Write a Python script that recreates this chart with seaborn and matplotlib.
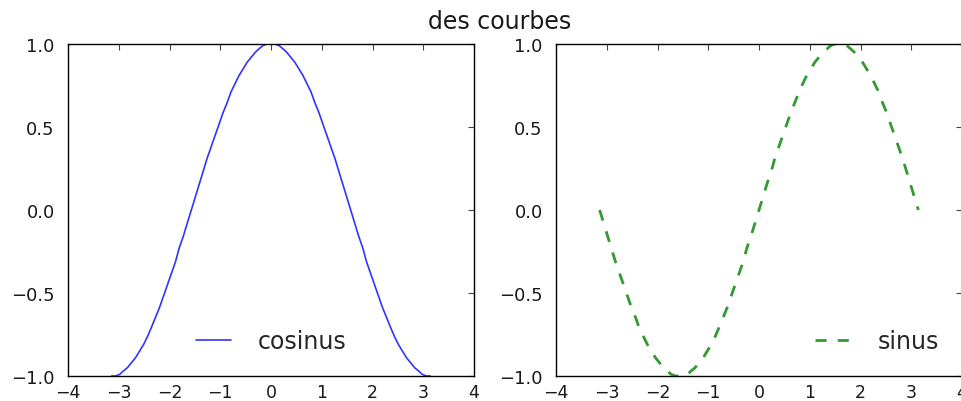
import matplotlib
matplotlib.use("Agg")
import matplotlib.pyplot as plt
import seaborn as sns
import pandas as pd

x_values = [-3.14, -3.06, -2.98, -2.91, -2.83, -2.75, -2.67, -2.59, -2.51, -2.43,
            -2.36, -2.28, -2.20, -2.12, -2.04, -1.96, -1.88, -1.81, -1.73, -1.65,
            -1.57, -1.49, -1.41, -1.34, -1.26, -1.18, -1.10, -1.02, -0.94, -0.86,
            -0.79, -0.71, -0.63, -0.55, -0.47, -0.39, -0.31, -0.24, -0.16, -0.08,
            0.00, 0.08, 0.16, 0.24, 0.31, 0.39, 0.47, 0.55, 0.63, 0.71,
            0.79, 0.86, 0.94, 1.02, 1.10, 1.18, 1.26, 1.34, 1.41, 1.49,
            1.57, 1.65, 1.73, 1.81, 1.88, 1.96, 2.04, 2.12, 2.20, 2.28,
            2.36, 2.43, 2.51, 2.59, 2.67, 2.75, 2.83, 2.91, 2.98, 3.06, 3.14]
cos_values = [-1.00, -1.00, -0.99, -0.97, -0.95, -0.92, -0.89, -0.85, -0.81, -0.76,
              -0.71, -0.65, -0.59, -0.52, -0.45, -0.38, -0.31, -0.23, -0.16, -0.08,
              0.00, 0.08, 0.16, 0.23, 0.31, 0.38, 0.45, 0.52, 0.59, 0.65,
              0.71, 0.76, 0.81, 0.85, 0.89, 0.92, 0.95, 0.97, 0.99, 1.00,
              1.00, 1.00, 0.99, 0.97, 0.95, 0.92, 0.89, 0.85, 0.81, 0.76,
              0.71, 0.65, 0.59, 0.52, 0.45, 0.38, 0.31, 0.23, 0.16, 0.08,
              0.00, -0.08, -0.16, -0.23, -0.31, -0.38, -0.45, -0.52, -0.59, -0.65,
              -0.71, -0.76, -0.81, -0.85, -0.89, -0.92, -0.95, -0.97, -0.99, -1.00, -1.00]
sin_values = [0.00, -0.08, -0.16, -0.23, -0.31, -0.38, -0.45, -0.52, -0.59, -0.65,
              -0.71, -0.76, -0.81, -0.85, -0.89, -0.92, -0.95, -0.97, -0.99, -1.00,
              -1.00, -1.00, -0.99, -0.97, -0.95, -0.92, -0.89, -0.85, -0.81, -0.76,
              -0.71, -0.65, -0.59, -0.52, -0.45, -0.38, -0.31, -0.23, -0.16, -0.08,
              0.00, 0.08, 0.16, 0.23, 0.31, 0.38, 0.45, 0.52, 0.59, 0.65,
              0.71, 0.76, 0.81, 0.85, 0.89, 0.92, 0.95, 0.97, 0.99, 1.00,
              1.00, 1.00, 0.99, 0.97, 0.95, 0.92, 0.89, 0.85, 0.81, 0.76,
              0.71, 0.65, 0.59, 0.52, 0.45, 0.38, 0.31, 0.23, 0.16, 0.08, 0.00]
x_ticks = [-4, -3, -2, -1, 0, 1, 2, 3, 4]
y_ticks = [-1.0, -0.5, 0.0, 0.5, 1.0]
title = "des courbes"

sns.set_style("white")
plt.rcParams["font.family"] = ["DejaVu Sans"]
plt.rcParams["axes.unicode_minus"] = True

df = pd.DataFrame({"x": x_values, "cos": cos_values, "sin": sin_values})

fig = plt.figure(figsize=(9.61, 4.02), dpi=100, facecolor="white")
ax1 = fig.add_axes([68 / 961, 1 - 377 / 402, 406 / 961, 332 / 402])
ax2 = fig.add_axes([556 / 961, 1 - 377 / 402, 406 / 961, 332 / 402])

sns.lineplot(data=df, x="x", y="cos", ax=ax1, color="#0000ff", linewidth=1.2,
             alpha=0.8, label="cosinus", sort=False)
sns.lineplot(data=df, x="x", y="sin", ax=ax2, color="#008000", linewidth=2.0,
             alpha=0.8, linestyle=(0, (4, 4)), label="sinus", sort=False)

for ax in (ax1, ax2):
    ax.set_xlim(-4, 4)
    ax.set_ylim(-1, 1)
    ax.set_xticks(x_ticks)
    ax.set_yticks(y_ticks)
    ax.set_xlabel("")
    ax.set_ylabel("")
    ax.tick_params(direction="in", top=True, right=True, length=4.5, width=0.8,
                   color="#444444", labelcolor="#1a1a1a")
    ax.tick_params(axis="x", pad=5, labelsize=12.5)
    ax.tick_params(axis="y", pad=9.5, labelsize=13)
    for s in ax.spines.values():
        s.set_visible(True)
        s.set_color("black")
        s.set_linewidth(1.0)
    ax.set_facecolor("white")

leg_kw = dict(frameon=False, fontsize=17, handlelength=1.48, handletextpad=1.15,
              borderaxespad=0.58)
ax1.legend(loc="lower center", **leg_kw)
ax2.legend(loc="lower right", **leg_kw)

fig.suptitle(title, fontsize=17, x=500 / 961, y=1 - 22 / 402, va="center",
             color="#1a1a1a")

fig.savefig("out.png", dpi=100, facecolor="white")
